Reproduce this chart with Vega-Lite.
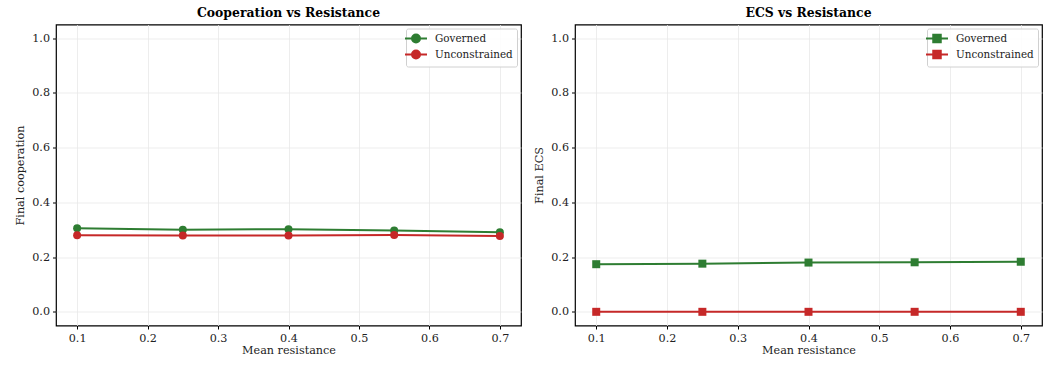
{
  "$schema": "https://vega.github.io/schema/vega-lite/v6.json",
  "background": "white",
  "padding": {"left": 14, "top": 6.5, "right": 4, "bottom": 4},
  "datasets": {
    "coop": [
      {"resistance": 0.1, "series": "Governed", "value": 0.305},
      {"resistance": 0.25, "series": "Governed", "value": 0.300},
      {"resistance": 0.4, "series": "Governed", "value": 0.302},
      {"resistance": 0.55, "series": "Governed", "value": 0.297},
      {"resistance": 0.7, "series": "Governed", "value": 0.291},
      {"resistance": 0.1, "series": "Unconstrained", "value": 0.280},
      {"resistance": 0.25, "series": "Unconstrained", "value": 0.279},
      {"resistance": 0.4, "series": "Unconstrained", "value": 0.279},
      {"resistance": 0.55, "series": "Unconstrained", "value": 0.281},
      {"resistance": 0.7, "series": "Unconstrained", "value": 0.277}
    ],
    "ecs": [
      {"resistance": 0.1, "series": "Governed", "value": 0.174},
      {"resistance": 0.25, "series": "Governed", "value": 0.176},
      {"resistance": 0.4, "series": "Governed", "value": 0.180},
      {"resistance": 0.55, "series": "Governed", "value": 0.181},
      {"resistance": 0.7, "series": "Governed", "value": 0.183},
      {"resistance": 0.1, "series": "Unconstrained", "value": 0.0},
      {"resistance": 0.25, "series": "Unconstrained", "value": 0.0},
      {"resistance": 0.4, "series": "Unconstrained", "value": 0.0},
      {"resistance": 0.55, "series": "Unconstrained", "value": 0.0},
      {"resistance": 0.7, "series": "Unconstrained", "value": 0.0}
    ]
  },
  "config": {
    "font": "DejaVu Serif",
    "view": {"stroke": "black", "strokeWidth": 1.2},
    "axis": {
      "domain": false,
      "grid": true,
      "gridColor": "#e8e8e8",
      "gridWidth": 0.8,
      "tickColor": "black",
      "tickSize": 3.5,
      "labelFont": "DejaVu Serif",
      "labelFontSize": 11.2,
      "labelColor": "#222",
      "labelPadding": 3,
      "titleFont": "DejaVu Serif",
      "titleFontSize": 11.2,
      "titleFontWeight": "normal",
      "titleColor": "#222"
    },
    "title": {"font": "DejaVu Serif", "fontSize": 12.4, "fontWeight": "bold", "color": "black", "offset": 5},
    "legend": {
      "orient": "top-right",
      "title": null,
      "labelFont": "DejaVu Serif",
      "labelFontSize": 10.4,
      "labelColor": "#222",
      "labelOffset": 13,
      "strokeColor": "#d0d0d0",
      "fillColor": "rgba(255,255,255,0.85)",
      "cornerRadius": 2,
      "padding": 4,
      "offset": 4,
      "rowPadding": 0,
      "symbolSize": 100,
      "symbolStrokeWidth": 2
    }
  },
  "resolve": {"legend": {"color": "independent"}},
  "spacing": 11,
  "hconcat": [
    {
      "title": "Cooperation vs Resistance",
      "width": 465,
      "height": 301,
      "data": {"name": "coop"},
      "mark": {"type": "line", "strokeWidth": 2, "point": {"filled": true, "shape": "circle", "size": 64, "opacity": 1}},
      "encoding": {
        "x": {"field": "resistance", "type": "quantitative", "title": "Mean resistance",
              "scale": {"domain": [0.07, 0.73], "nice": false, "zero": false},
              "axis": {"values": [0.1, 0.2, 0.3, 0.4, 0.5, 0.6, 0.7], "format": ".1f", "titlePadding": 1}},
        "y": {"field": "value", "type": "quantitative", "title": "Final cooperation",
              "scale": {"domain": [-0.05, 1.05], "nice": false, "zero": false},
              "axis": {"values": [0, 0.2, 0.4, 0.6, 0.8, 1.0], "format": ".1f", "titlePadding": 6}},
        "color": {"field": "series", "type": "nominal",
                  "scale": {"domain": ["Governed", "Unconstrained"], "range": ["#2e7d32", "#c62828"]},
                  "legend": {"symbolType": "M-2.2,0H2.2M-0.8,0A0.8,0.8 0 1,0 0.8,0A0.8,0.8 0 1,0 -0.8,0Z"}}
      }
    },
    {
      "title": "ECS vs Resistance",
      "width": 467,
      "height": 301,
      "data": {"name": "ecs"},
      "mark": {"type": "line", "strokeWidth": 2, "point": {"filled": true, "shape": "square", "size": 64, "opacity": 1}},
      "encoding": {
        "x": {"field": "resistance", "type": "quantitative", "title": "Mean resistance",
              "scale": {"domain": [0.07, 0.73], "nice": false, "zero": false},
              "axis": {"values": [0.1, 0.2, 0.3, 0.4, 0.5, 0.6, 0.7], "format": ".1f", "titlePadding": 1}},
        "y": {"field": "value", "type": "quantitative", "title": "Final ECS",
              "scale": {"domain": [-0.05, 1.05], "nice": false, "zero": false},
              "axis": {"values": [0, 0.2, 0.4, 0.6, 0.8, 1.0], "format": ".1f", "titlePadding": 6}},
        "color": {"field": "series", "type": "nominal",
                  "scale": {"domain": ["Governed", "Unconstrained"], "range": ["#2e7d32", "#c62828"]},
                  "legend": {"symbolType": "M-2.2,0H2.2M-0.75,-0.75H0.75V0.75H-0.75Z"}}
      }
    }
  ]
}
